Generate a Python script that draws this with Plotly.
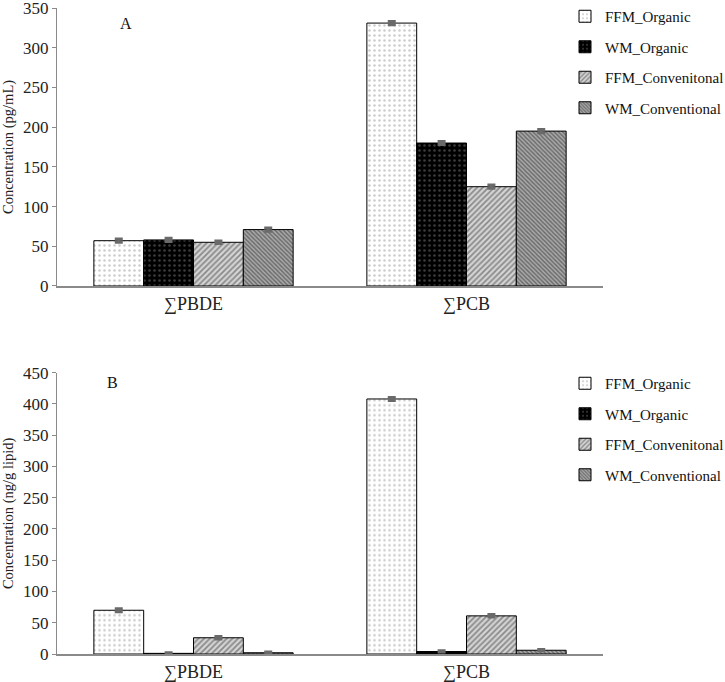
import plotly.graph_objects as go

categories = ["∑PBDE", "∑PCB"]
series_names = ["FFM_Organic", "WM_Organic", "FFM_Convenitonal", "WM_Conventional"]

# Panel A: Concentration (pg/mL)
a_ffm_org = [57, 331]
a_wm_org = [58, 180]
a_ffm_conv = [55, 125]
a_wm_conv = [71, 195]
a_err = [[2, 2], [2, 2], [1.5, 2], [2, 2]]

# Panel B: Concentration (ng/g lipid)
b_ffm_org = [70, 408]
b_wm_org = [1, 4]
b_ffm_conv = [26, 61]
b_wm_conv = [2, 6]
b_err = [[2.5, 2.5], [1, 1], [2, 2], [1, 1]]

a_ticks = [0, 50, 100, 150, 200, 250, 300, 350]
b_ticks = [0, 50, 100, 150, 200, 250, 300, 350, 400, 450]

styles = [
    dict(shape=".", fgcolor="#9a9a9a", bgcolor="white", size=5, solidity=0.2),
    dict(shape=".", fgcolor="#7a7a7a", bgcolor="black", size=5, solidity=0.2),
    dict(shape="/", fgcolor="#3f3f3f", bgcolor="#d4d4d4", size=4, solidity=0.45),
    dict(shape="\\", fgcolor="#2e2e2e", bgcolor="#ababab", size=3, solidity=0.5),
]

FONT = "Liberation Serif, Times New Roman, serif"

fig = go.Figure()
panel_a = [a_ffm_org, a_wm_org, a_ffm_conv, a_wm_conv]
panel_b = [b_ffm_org, b_wm_org, b_ffm_conv, b_wm_conv]

for i, (name, vals) in enumerate(zip(series_names, panel_a)):
    fig.add_trace(go.Bar(
        x=categories, y=vals, name=name, xaxis="x", yaxis="y",
        legend="legend", legendgroup="a" + str(i),
        marker=dict(color=styles[i]["bgcolor"], pattern=styles[i],
                    line=dict(color="black", width=1)),
        error_y=dict(type="data", array=a_err[i], color="#6a6a6a", thickness=3, width=4),
    ))
for i, (name, vals) in enumerate(zip(series_names, panel_b)):
    fig.add_trace(go.Bar(
        x=categories, y=vals, name=name, xaxis="x2", yaxis="y2",
        legend="legend2", legendgroup="b" + str(i),
        marker=dict(color=styles[i]["bgcolor"], pattern=styles[i],
                    line=dict(color="black", width=1)),
        error_y=dict(type="data", array=b_err[i], color="#6a6a6a", thickness=3, width=4),
    ))

axis_common = dict(showgrid=False, zeroline=False, showline=True, linecolor="#8a8a8a")

legend_common = dict(font=dict(family=FONT, size=15, color="#111"), bgcolor="rgba(0,0,0,0)",
                     traceorder="grouped", tracegroupgap=8, xanchor="left", yanchor="top",
                     itemwidth=30)

PW, PH = 546, 646

fig.update_layout(
    width=725, height=682,
    margin=dict(l=57, r=122, t=8, b=28, autoexpand=False),
    paper_bgcolor="white", plot_bgcolor="white",
    barmode="group", bargap=0.27, bargroupgap=0,
    font=dict(family=FONT, color="#222"),
    xaxis=dict(axis_common, domain=[0, 1], anchor="y", linewidth=2, ticks="",
               tickfont=dict(family=FONT, size=18, color="#222")),
    yaxis=dict(axis_common, domain=[0.5697, 1], anchor="x", range=[0, 350],
               tickmode="array", tickvals=a_ticks, ticklabeloverflow="allow",
               ticks="outside", ticklen=4, tickcolor="#8a8a8a", linewidth=1,
               tickfont=dict(family=FONT, size=17, color="#222"),
               title=dict(text="Concentration (pg/mL)", font=dict(family=FONT, size=14.5), standoff=6)),
    xaxis2=dict(axis_common, domain=[0, 1], anchor="y2", linewidth=2, ticks="",
                tickfont=dict(family=FONT, size=18, color="#222")),
    yaxis2=dict(axis_common, domain=[0, 0.4354], anchor="x2", range=[0, 450],
                tickmode="array", tickvals=b_ticks, ticklabeloverflow="allow",
                ticks="outside", ticklen=4, tickcolor="#8a8a8a", linewidth=1,
                tickfont=dict(family=FONT, size=17, color="#222"),
                title=dict(text="Concentration (ng/g lipid)", font=dict(family=FONT, size=14.5), standoff=6)),
    legend=dict(legend_common, x=(565 - 57) / PW, y=(654 - 0) / PH),
    legend2=dict(legend_common, x=(565 - 57) / PW, y=(654 - 367) / PH),
)
fig.add_annotation(text="A", xref="paper", yref="paper", x=(118 - 57) / PW, y=(654 - 13) / PH,
                   showarrow=False, font=dict(family=FONT, size=16, color="#111"))
fig.add_annotation(text="B", xref="paper", yref="paper", x=(105 - 57) / PW, y=(654 - 382) / PH,
                   showarrow=False, font=dict(family=FONT, size=16, color="#111"))

fig.write_html("out.html", config={"displayModeBar": False},
               post_script="document.body.style.margin='0';document.body.style.overflow='hidden';")
